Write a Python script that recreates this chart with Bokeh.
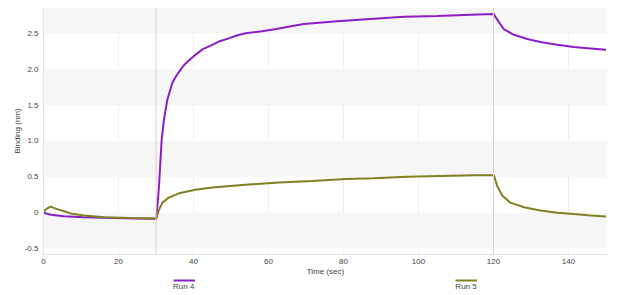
from bokeh.plotting import figure
from bokeh.layouts import column
from bokeh.models import (Range1d, SingleIntervalTicker, CustomJSTickFormatter, Span,
                          Legend, LegendItem)
from bokeh.embed import file_html
from bokeh.resources import INLINE

# ---- data ----
run4_time = [0, 2, 5.4, 10.7, 18.7, 25, 30.1, 30.8, 31.5, 32.1, 33.0, 34.3, 35.2, 36.1, 37.2,
             38.3, 40.5, 42.5, 45.0, 47.0, 49.4, 51.5, 53.9, 58.3, 62.0, 69.4, 78.3, 87.2,
             96.1, 105, 114, 120, 121.4, 122.7, 125.4, 129.0, 132.5, 137.0, 141.4, 145.9, 150]
run4_vals = [0.0, -0.03, -0.05, -0.065, -0.075, -0.08, -0.085, 0.37, 1.01, 1.29, 1.57, 1.80,
             1.89, 1.96, 2.04, 2.10, 2.20, 2.28, 2.34, 2.39, 2.43, 2.47, 2.50, 2.53, 2.56,
             2.63, 2.67, 2.70, 2.73, 2.74, 2.76, 2.77, 2.66, 2.56, 2.48, 2.42, 2.38, 2.34,
             2.31, 2.29, 2.27]

run5_time = [0, 1.0, 1.9, 3.6, 5.5, 7.2, 10.7, 16.1, 23.2, 29.4, 30.1, 30.8, 31.7, 33.4,
             36.1, 40.5, 45, 53.9, 62.7, 71.6, 80.5, 88.1, 97, 105.9, 114.7, 120.1, 121,
             122.3, 124.5, 128.1, 132.5, 137, 141.4, 145.9, 150]
run5_vals = [0.01, 0.06, 0.085, 0.05, 0.02, -0.01, -0.04, -0.065, -0.075, -0.08, -0.075,
             0.04, 0.14, 0.21, 0.27, 0.32, 0.35, 0.39, 0.42, 0.44, 0.47, 0.48, 0.50, 0.51,
             0.52, 0.52, 0.37, 0.24, 0.14, 0.075, 0.03, 0.0, -0.02, -0.04, -0.055]

step_boundaries = [30, 120]
series_names = ["Run 4", "Run 5"]
series_colors = ["#8c1ec8", "#808020"]

FONT = "Liberation Sans"

p = figure(width=640, height=278, output_backend="svg", toolbar_location=None,
           x_range=Range1d(0, 150.4), y_range=Range1d(-0.583, 2.86),
           min_border_left=43, min_border_right=33, min_border_top=7, min_border_bottom=23)
p.outline_line_color = None
p.background_fill_color = "white"

# grid
p.xgrid.ticker = SingleIntervalTicker(interval=20)
p.xgrid.grid_line_color = "#f0f0f0"
p.ygrid.ticker = SingleIntervalTicker(interval=0.5)
p.ygrid.grid_line_color = None
p.ygrid.band_fill_color = "#f6f6f6"
p.ygrid.band_fill_alpha = 1.0

for b in step_boundaries:
    p.add_layout(Span(location=b, dimension="height", line_color="#ecc8d0", line_width=1))

r4 = p.line(run4_time, run4_vals, line_color=series_colors[0], line_width=2)
r5 = p.line(run5_time, run5_vals, line_color=series_colors[1], line_width=2)

# axes
p.xaxis.ticker = SingleIntervalTicker(interval=20)
p.yaxis.ticker = SingleIntervalTicker(interval=0.5)
p.yaxis.formatter = CustomJSTickFormatter(code="return Math.abs(tick) < 1e-9 ? '0' : tick.toFixed(1);")
for ax in (p.xaxis[0], p.yaxis[0]):
    ax.axis_line_color = "#e4e4e4"
    ax.major_tick_out = 0
    ax.major_tick_in = 0
    ax.minor_tick_out = 0
    ax.minor_tick_in = 0
    ax.major_label_text_font = FONT
    ax.major_label_text_font_size = "8px"
    ax.major_label_text_color = "#444444"
    ax.axis_label_text_font = FONT
    ax.axis_label_text_font_size = "8px"
    ax.axis_label_text_font_style = "normal"
    ax.axis_label_text_color = "#444444"
    ax.axis_label_standoff = 0
p.xaxis.axis_label = "Time (sec)"
p.yaxis.axis_label = "Binding (nm)"
p.xaxis.major_label_standoff = 4
p.yaxis.major_label_standoff = 5

# ---- legend strip below the chart: coloured bars with the names beneath ----
# (its ranges are set so that the key renderers themselves stay out of view)
lg = figure(width=640, height=17, output_backend="svg", toolbar_location=None,
            x_range=Range1d(-1000, -999), y_range=Range1d(-1000, -999),
            x_axis_location=None, y_axis_location=None, min_border=0)
lg.outline_line_color = None
lg.grid.visible = False
k4 = lg.line(run4_time, run4_vals, line_color=series_colors[0], line_width=2)
k5 = lg.line(run5_time, run5_vals, line_color=series_colors[1], line_width=2)
n4 = lg.line(run4_time, run4_vals, line_alpha=0)
n5 = lg.line(run5_time, run5_vals, line_alpha=0)

bars = Legend(items=[LegendItem(label=" ", renderers=[k4]), LegendItem(label=" ", renderers=[k5])],
              location=(130, 13), orientation="horizontal", padding=0, margin=0,
              border_line_color=None, background_fill_alpha=0, glyph_width=22,
              glyph_height=4, label_text_font_size="1px", label_text_alpha=0,
              label_standoff=0, label_width=0, label_height=0, spacing=260)
names = Legend(items=[LegendItem(label=series_names[0], renderers=[n4]),
                      LegendItem(label=series_names[1], renderers=[n5])],
               location=(129, 4), orientation="horizontal", padding=0, margin=0,
               border_line_color=None, background_fill_alpha=0, glyph_width=1,
               glyph_height=8, label_text_font=FONT, label_text_font_size="8px",
               label_text_color="#444444", label_standoff=0, label_width=20,
               label_height=8, spacing=260)
lg.add_layout(bars, "center")
lg.add_layout(names, "center")

open("out.html", "w").write(file_html(column(p, lg, spacing=0), INLINE))
